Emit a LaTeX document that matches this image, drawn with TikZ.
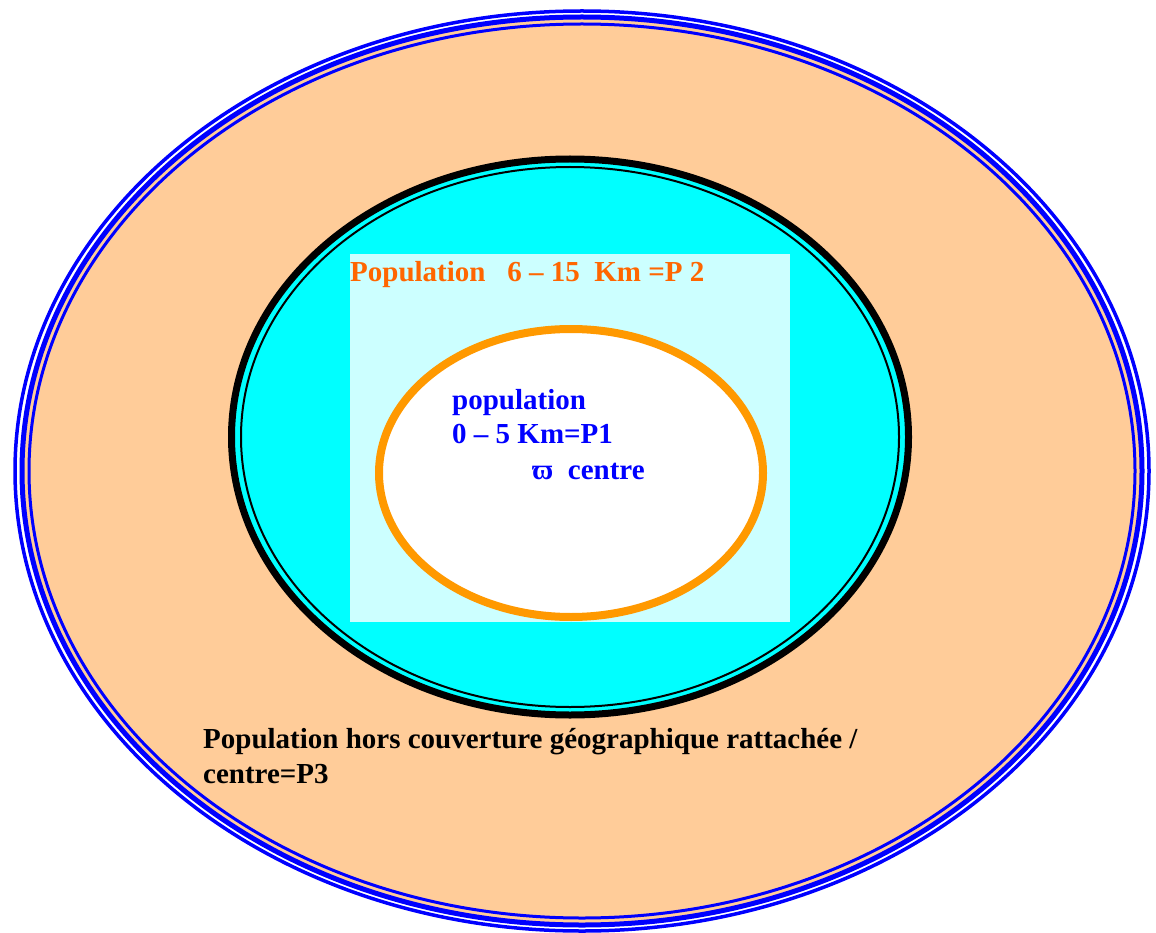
\documentclass[tikz,border=0pt]{standalone}
\usepackage{fontspec}
\setmainfont{Liberation Serif}
\definecolor{peach}{HTML}{FFCC99}
\definecolor{cyanA}{HTML}{00FFFF}
\definecolor{cyanL}{HTML}{CCFFFF}
\definecolor{orangeE}{HTML}{FF9900}
\definecolor{orangeT}{HTML}{FF6600}
\definecolor{blueT}{HTML}{0000FF}
\tikzset{
  lbl/.style={anchor=base west, inner sep=0pt, font=\bfseries\fontsize{29}{35}\selectfont},
  blueline/.style={draw=blueT},
}
\begin{document}
\begin{tikzpicture}[x=1pt,y=-1pt]
\useasboundingbox (0,0) rectangle (1156,933);
% outer ring
\fill[peach] (582,471) ellipse [x radius=560, y radius=453];
\draw[blueline, line width=3.5pt] (582,471) ellipse [x radius=567, y radius=460];
\draw[blueline, line width=5pt] (582,471) ellipse [x radius=560, y radius=454];
\draw[blueline, line width=3pt] (582,471) ellipse [x radius=553, y radius=447];
% middle ellipse
\fill[cyanA] (570,437) ellipse [x radius=338.5, y radius=278];
\draw[black, line width=7pt] (570,437) ellipse [x radius=338.5, y radius=278];
\draw[black, line width=2pt] (570,437) ellipse [x radius=329, y radius=270];
% light cyan rectangle
\fill[cyanL] (350,254) rectangle (790,622);
% inner ellipse
\draw[orangeE, fill=white, line width=8pt] (571,473) ellipse [x radius=192, y radius=144];
% texts
\node[lbl, text=orangeT] (p2) at (350,282) {Population\ \ \ 6 – 15\ \ Km =P 2};
\node[lbl, text=blueT] (p1a) at (452,409) {population};
\node[lbl, text=blueT] (p1b) at (452,443) {0 – 5 Km=P1};
\node[lbl, text=blueT] (p1c) at (532,479) {ϖ\ \ centre};
\node[lbl, text=black] (p3) at (203,748) {Population hors couverture géographique rattachée /};
\node[lbl, text=black] (p3b) at (203,783) {centre=P3};
\end{tikzpicture}
\end{document}
